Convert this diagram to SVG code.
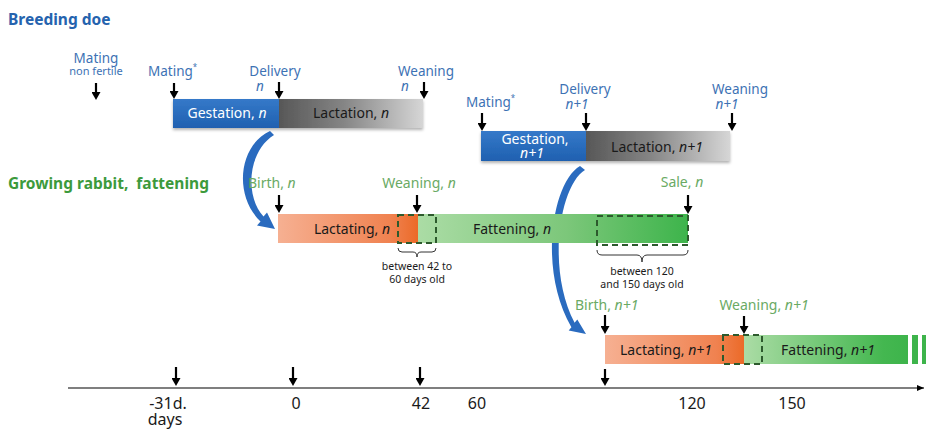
<svg xmlns="http://www.w3.org/2000/svg" width="926" height="430" viewBox="0 0 926 430">
<defs>
<style>
.lb{font-family:"Noto Sans","Open Sans",sans-serif;font-size:13.5px;fill:#3d72b4}
.lbs{font-family:"Noto Sans","Open Sans",sans-serif;font-size:11px;fill:#3d72b4}
.lg{font-family:"Noto Sans","Open Sans",sans-serif;font-size:14px;fill:#6aaa64}
.bar{font-family:"Noto Sans","Open Sans",sans-serif;font-size:14px;fill:#1a1a1a}
.barw{font-family:"Noto Sans","Open Sans",sans-serif;font-size:14px;fill:#ffffff}
.note{font-family:"Noto Sans","Open Sans",sans-serif;font-size:10.5px;fill:#1a1a1a}
.ax{font-family:"Noto Sans","Open Sans",sans-serif;font-size:16px;fill:#1a1a1a}
.it{font-style:italic}
.arr{stroke:#000;stroke-width:2.2;fill:none;marker-end:url(#ah)}
.dash{fill:none;stroke:#2d5a2d;stroke-width:2;stroke-dasharray:6 4}
.brace{fill:none;stroke:#333;stroke-width:1}
</style>
<marker id="ah" markerUnits="userSpaceOnUse" markerWidth="9" markerHeight="9" refX="4" refY="4.5" orient="auto" viewBox="0 0 9 9">
<path d="M0,0 L8,4.5 L0,9 Z" fill="#000"/>
</marker>
<marker id="axh" markerUnits="userSpaceOnUse" markerWidth="8" markerHeight="8" refX="7" refY="4" orient="auto" viewBox="0 0 8 8">
<path d="M0,1 L7,4 L0,7 Z" fill="#000"/>
</marker>
<linearGradient id="gBlue" x1="0" y1="0" x2="0" y2="1">
<stop offset="0" stop-color="#3579c9"/><stop offset="1" stop-color="#1f60b0"/>
</linearGradient>
<linearGradient id="gGray" x1="0" y1="0" x2="1" y2="0">
<stop offset="0" stop-color="#575757"/><stop offset="0.45" stop-color="#858585"/><stop offset="1" stop-color="#d6d6d6"/>
</linearGradient>
<linearGradient id="gOr" x1="0" y1="0" x2="1" y2="0">
<stop offset="0" stop-color="#f6b092"/><stop offset="0.8" stop-color="#f08250"/><stop offset="1" stop-color="#eb6a28"/>
</linearGradient>
<linearGradient id="gGr" x1="0" y1="0" x2="1" y2="0">
<stop offset="0" stop-color="#abdca5"/><stop offset="0.55" stop-color="#7cc77a"/><stop offset="1" stop-color="#3db44b"/>
</linearGradient>
<linearGradient id="gGr3" x1="0" y1="0" x2="1" y2="0">
<stop offset="0" stop-color="#abdca5"/><stop offset="0.85" stop-color="#44b750"/><stop offset="1" stop-color="#3db44b"/>
</linearGradient>
<filter id="sh" x="-5%" y="-20%" width="110%" height="160%">
<feDropShadow dx="0" dy="2" stdDeviation="1.5" flood-color="#000" flood-opacity="0.3"/>
</filter>
</defs>
<rect width="926" height="430" fill="#ffffff"/>

<text x="8" y="25" style="font-family:'Noto Sans','Open Sans',sans-serif;font-size:15.5px;font-weight:bold;fill:#2563ae">Breeding doe</text>
<text x="8" y="189" style="font-family:'Noto Sans','Open Sans',sans-serif;font-size:15.5px;font-weight:bold;fill:#3c9a3c">Growing rabbit,&#160; fattening</text>

<g id="connectors">
<path d="M270 131 C239 145,233 195,260.5 221.5 L257 225.5 L275 229 L267 212.5 L263.5 216.5 C245 197,247 152,274 135 Z" fill="#2a6bbf"/>
<path d="M580 166 C552 182,538 270,571.4 327.2 L568.7 330.5 L586 334 L577.3 319.5 L574.6 322.8 C546 268,560 185,585 170 Z" fill="#2a6bbf"/>
</g>

<g id="doe-n">
<text class="lb" x="96" y="63" text-anchor="middle">Mating</text>
<text class="lbs" x="96" y="75" text-anchor="middle">non fertile</text>
<line class="arr" x1="96" y1="83" x2="96" y2="96"/>
<text class="lb" x="148" y="76">Mating<tspan font-size="8" dy="-6">*</tspan></text>
<line class="arr" x1="174" y1="83" x2="174" y2="95"/>
<text class="lb" x="275" y="76" text-anchor="middle">Delivery</text>
<text class="lb it" x="260" y="91" text-anchor="middle">n</text>
<line class="arr" x1="279" y1="82" x2="279" y2="95"/>
<text class="lb" x="426" y="76" text-anchor="middle">Weaning</text>
<text class="lb it" x="405" y="91" text-anchor="middle">n</text>
<line class="arr" x1="424" y1="82" x2="424" y2="95"/>
<g filter="url(#sh)">
<rect x="173" y="99" width="106" height="29" fill="url(#gBlue)"/>
<rect x="279" y="99" width="144" height="29" fill="url(#gGray)"/>
</g>
<text class="barw" x="227" y="118" text-anchor="middle">Gestation, <tspan class="it">n</tspan></text>
<text class="bar" x="351" y="118" text-anchor="middle">Lactation, <tspan class="it">n</tspan></text>
</g>

<g id="doe-n1">
<text class="lb" x="466" y="107">Mating<tspan font-size="8" dy="-6">*</tspan></text>
<line class="arr" x1="482" y1="113" x2="482" y2="127"/>
<text class="lb" x="585" y="94" text-anchor="middle">Delivery</text>
<text class="lb it" x="577" y="109" text-anchor="middle">n+1</text>
<line class="arr" x1="586" y1="113" x2="586" y2="127"/>
<text class="lb" x="740" y="94" text-anchor="middle">Weaning</text>
<text class="lb it" x="727" y="109" text-anchor="middle">n+1</text>
<line class="arr" x1="732" y1="113" x2="732" y2="127"/>
<g filter="url(#sh)">
<rect x="481" y="131" width="105" height="30" fill="url(#gBlue)"/>
<rect x="586" y="131" width="144" height="30" fill="url(#gGray)"/>
</g>
<text class="barw" x="535" y="144" text-anchor="middle">Gestation,</text>
<text class="barw it" x="532" y="158" text-anchor="middle">n+1</text>
<text class="bar" x="657" y="152" text-anchor="middle">Lactation, <tspan class="it">n+1</tspan></text>
</g>

<g id="rabbit-n">
<text class="lg" x="248" y="188">Birth, <tspan class="it">n</tspan></text>
<line class="arr" x1="279" y1="195" x2="279" y2="209"/>
<text class="lg" x="419" y="188" text-anchor="middle">Weaning, <tspan class="it">n</tspan></text>
<line class="arr" x1="417" y1="195" x2="417" y2="209"/>
<text class="lg" x="682" y="187" text-anchor="middle">Sale, <tspan class="it">n</tspan></text>
<line class="arr" x1="688" y1="195" x2="688" y2="210"/>
<rect x="278" y="214" width="140" height="29" fill="url(#gOr)"/>
<rect x="418" y="214" width="270" height="29" fill="url(#gGr)"/>
<text class="bar" x="352" y="234" text-anchor="middle">Lactating, <tspan class="it">n</tspan></text>
<text class="bar" x="512" y="234" text-anchor="middle">Fattening, <tspan class="it">n</tspan></text>
<rect class="dash" x="398" y="215" width="38" height="28"/>
<rect class="dash" x="597" y="216" width="91" height="29"/>
<path class="brace" d="M398 248 Q398 252 402 252 L413 252 Q417 252 417 257 Q417 252 421 252 L432 252 Q436 252 436 248"/>
<path class="brace" d="M597 250 Q597 255 602 255 L637 255 Q642 255 642 262 Q642 255 647 255 L683 255 Q688 255 688 250"/>
<text class="note" x="417" y="270" text-anchor="middle">between 42 to</text>
<text class="note" x="417" y="283" text-anchor="middle">60 days old</text>
<text class="note" x="642" y="275" text-anchor="middle">between 120</text>
<text class="note" x="642" y="288" text-anchor="middle">and 150 days old</text>
</g>

<g id="rabbit-n1">
<text class="lg" x="575" y="310">Birth, <tspan class="it">n+1</tspan></text>
<line class="arr" x1="605" y1="315" x2="605" y2="330"/>
<text class="lg" x="764" y="310" text-anchor="middle">Weaning, <tspan class="it">n+1</tspan></text>
<line class="arr" x1="744" y1="316" x2="744" y2="330"/>
<rect x="605" y="335" width="139" height="29" fill="url(#gOr)"/>
<rect x="744" y="335" width="164" height="29" fill="url(#gGr3)"/>
<rect x="912" y="335" width="6" height="29" fill="#3db44b"/>
<rect x="922" y="335" width="4" height="29" fill="#3db44b"/>
<text class="bar" x="666" y="355" text-anchor="middle">Lactating, <tspan class="it">n+1</tspan></text>
<text class="bar" x="828" y="355" text-anchor="middle">Fattening, <tspan class="it">n+1</tspan></text>
<rect class="dash" x="723" y="335" width="39" height="29"/>
</g>

<g id="axis">
<line x1="68" y1="388" x2="924" y2="388" stroke="#555" stroke-width="1.5" marker-end="url(#axh)"/>
<line class="arr" x1="176" y1="367" x2="176" y2="382"/>
<line class="arr" x1="293" y1="367" x2="293" y2="382"/>
<line class="arr" x1="420" y1="367" x2="420" y2="382"/>
<line class="arr" x1="605" y1="369" x2="605" y2="382"/>
<text class="ax" x="168" y="409" text-anchor="middle">-31d.</text>
<text class="ax" x="165" y="425" text-anchor="middle">days</text>
<text class="ax" x="296" y="409" text-anchor="middle">0</text>
<text class="ax" x="421" y="409" text-anchor="middle">42</text>
<text class="ax" x="477" y="409" text-anchor="middle">60</text>
<text class="ax" x="692" y="409" text-anchor="middle">120</text>
<text class="ax" x="792" y="409" text-anchor="middle">150</text>
</g>
</svg>
